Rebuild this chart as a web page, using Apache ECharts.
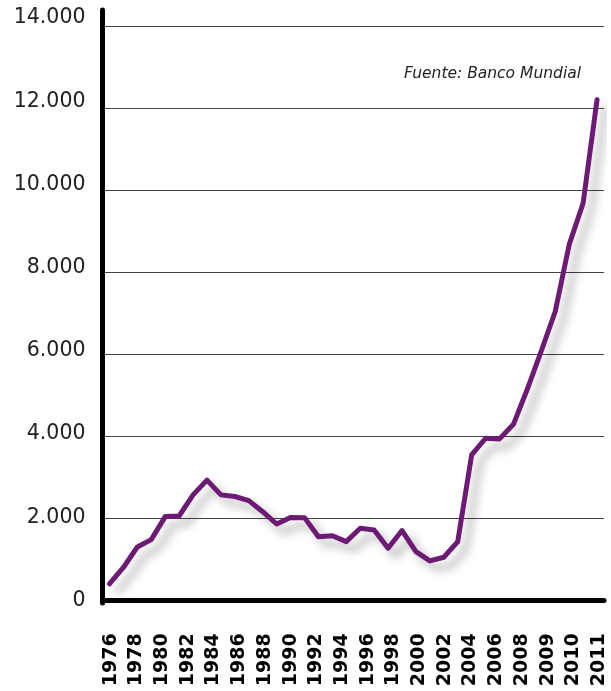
<!DOCTYPE html>
<html>
<head>
<meta charset="utf-8">
<script src="https://cdn.jsdelivr.net/npm/echarts@6/dist/echarts.min.js"></script>
<style>html,body{margin:0;padding:0;background:#fff}#c{width:611px;height:691px}</style>
</head>
<body>
<div id="c"></div>
<script>
const years = [1976,1977,1978,1979,1980,1981,1982,1983,1984,1985,1986,1987,1988,1989,1990,1991,1992,1993,1994,1995,1996,1997,1998,1999,2000,2001,2002,2003,2004,2005,2006,2007,2008,2009,2010,2011];
const values = [400,800,1300,1480,2040,2055,2570,2930,2570,2530,2430,2160,1860,2020,2015,1550,1575,1430,1755,1715,1270,1700,1185,960,1050,1430,3545,3950,3935,4290,5150,6080,7040,8670,9680,12200];
const tickLabels = ['1976','1978','1980','1982','1984','1986','1988','1990','1992','1994','1996','1998','2000','2002','2004','2006','2008','2009','2010','2011'];
const yTicks = {min: 0, max: 14000, interval: 2000};
const sourceText = 'Fuente: Banco Mundial';

const fmt = v => v === 0 ? '0' : v.toLocaleString('en-US').replace(/,/g, '.');

const chart = echarts.init(document.getElementById('c'), null, {renderer: 'canvas'});
chart.setOption({
  animation: false,
  backgroundColor: '#ffffff',
  title: {
    text: sourceText, right: 25, top: 61,
    textStyle: {fontFamily: 'DejaVu Sans', fontStyle: 'italic', fontWeight: 'normal', fontSize: 15.5, color: '#222'}
  },
  grid: [
    {left: 102.5, right: 7, top: 26, bottom: 90.7},
    {left: 110.7, right: 12, top: 26, bottom: 90.7},
    {left: 102.5, right: 7, top: 10, bottom: 88},
    {left: 102.5, right: 7, top: 18, bottom: 90.5}
  ],
  xAxis: [
    {gridIndex: 0, type: 'value', min: 1975.5, max: 2011.5,
     axisLine: {show: true, onZero: true, lineStyle: {color: '#000', width: 5}},
     axisTick: {show: false}, axisLabel: {show: false}, splitLine: {show: false}},
    {gridIndex: 1, type: 'category', data: tickLabels, boundaryGap: false,
     axisLine: {show: false}, axisTick: {show: false},
     axisLabel: {interval: 0, rotate: 90, margin: 33, fontFamily: 'DejaVu Sans', fontWeight: 'bold', fontSize: 19, color: '#000'}},
    {gridIndex: 2, type: 'value', show: false},
    {gridIndex: 3, type: 'value', show: false}
  ],
  yAxis: [
    {gridIndex: 0, type: 'value', min: yTicks.min, max: yTicks.max, interval: yTicks.interval,
     axisLine: {show: false}, axisTick: {show: false}, axisLabel: {show: false},
     splitLine: {show: true, lineStyle: {color: '#444', width: 1}}},
    {gridIndex: 1, type: 'value', show: false},
    {gridIndex: 2, type: 'value', min: 0, max: 1,
     axisLine: {show: true, lineStyle: {color: '#000', width: 5}},
     axisTick: {show: false}, axisLabel: {show: false}, splitLine: {show: false}},
    {gridIndex: 3, type: 'value', min: yTicks.min, max: yTicks.max, interval: yTicks.interval,
     axisLine: {show: false}, axisTick: {show: false}, splitLine: {show: false},
     axisLabel: {margin: 17, fontFamily: 'DejaVu Sans', fontSize: 20.5, color: '#222', formatter: fmt}}
  ],
  series: [{
    type: 'line', xAxisIndex: 0, yAxisIndex: 0,
    data: years.map((y, i) => [y, values[i]]),
    symbol: 'none', smooth: false,
    lineStyle: {color: '#6c1a73', width: 5, cap: 'round', join: 'round',
      shadowColor: 'rgba(0,0,0,0.3)', shadowBlur: 10, shadowOffsetX: 8, shadowOffsetY: 8}
  }]
});
</script>
</body>
</html>
